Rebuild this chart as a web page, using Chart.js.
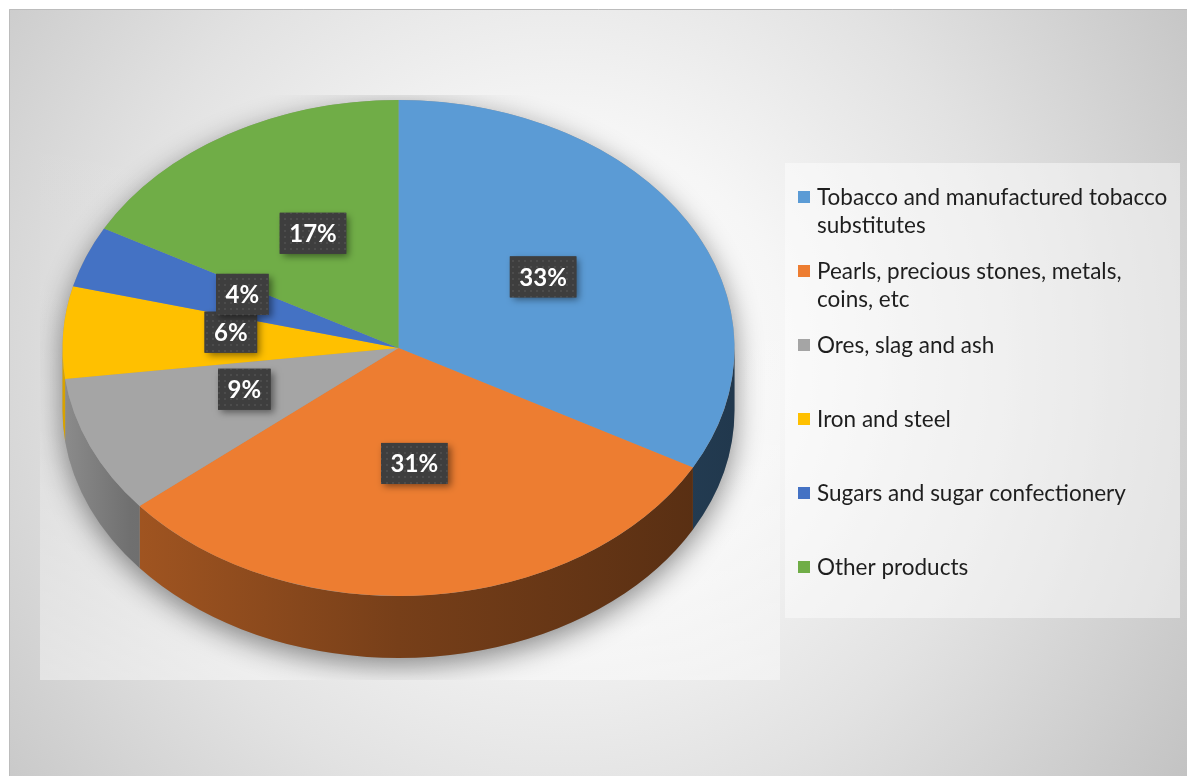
<!DOCTYPE html>
<html>
<head>
<meta charset="utf-8">
<script src="https://cdn.jsdelivr.net/npm/chart.js@4.4.1/dist/chart.umd.min.js"></script>
<style>
  html, body { margin: 0; padding: 0; background: #fff; overflow: hidden; }
  canvas { display: block; }
</style>
</head>
<body>
<canvas id="exports" width="1187" height="776"></canvas>
<script>
const categories = [
  "Tobacco and manufactured tobacco substitutes",
  "Pearls, precious stones, metals, coins, etc",
  "Ores, slag and ash",
  "Iron and steel",
  "Sugars and sugar confectionery",
  "Other products"
];
const shares = [33, 31, 9, 6, 4, 17];
const sliceColors = ["#5B9BD5", "#ED7D31", "#A5A5A5", "#FFC000", "#4472C4", "#70AD47"];

const tilt = 248 / 336;   // vertical squash of the disc
const depth = 62;         // rim thickness
const plotBox = { x: 40, y: 95, w: 740, h: 585 };
const legendBox = { x: 785, y: 163, w: 395, h: 455 };

function shade(hex, f) {
  const n = parseInt(hex.slice(1), 16);
  const r = Math.round(((n >> 16) & 255) * f);
  const g = Math.round(((n >> 8) & 255) * f);
  const b = Math.round((n & 255) * f);
  return `rgb(${r},${g},${b})`;
}

function wrap(ctx, text, maxWidth) {
  const words = text.split(" ");
  const lines = [];
  let line = "";
  words.forEach(w => {
    const test = line ? line + " " + w : w;
    if (ctx.measureText(test).width > maxWidth && line) {
      lines.push(line);
      line = w;
    } else {
      line = test;
    }
  });
  lines.push(line);
  return lines;
}

// small dotted texture for the label boxes
const dotTile = document.createElement("canvas");
dotTile.width = 6; dotTile.height = 6;
(function () {
  const c = dotTile.getContext("2d");
  c.fillStyle = "#3e3e3e";
  c.fillRect(0, 0, 6, 6);
  c.fillStyle = "#4c4c4c";
  c.fillRect(2, 2, 2, 2);
})();

const backdrop = {
  id: "backdrop",
  beforeDraw(chart) {
    const ctx = chart.ctx;
    const W = chart.width, H = chart.height;
    ctx.save();
    ctx.fillStyle = "#fff";
    ctx.fillRect(0, 0, W, H);

    const g = ctx.createRadialGradient(560, 360, 0, 560, 360, 760);
    g.addColorStop(0, "#ffffff");
    g.addColorStop(0.3, "#f6f6f6");
    g.addColorStop(0.6, "#e2e2e2");
    g.addColorStop(1, "#c2c2c2");
    ctx.fillStyle = g;
    ctx.fillRect(9, 9, W - 9, H - 9);

    ctx.strokeStyle = "#bcbcbc";
    ctx.lineWidth = 1;
    ctx.beginPath();
    ctx.moveTo(9.5, H);
    ctx.lineTo(9.5, 9.5);
    ctx.lineTo(W, 9.5);
    ctx.stroke();

    // plot area gets lighter towards its bottom edge
    const pg = ctx.createLinearGradient(0, plotBox.y, 0, plotBox.y + plotBox.h);
    pg.addColorStop(0, "rgba(255,255,255,0)");
    pg.addColorStop(0.4, "rgba(255,255,255,0.05)");
    pg.addColorStop(1, "rgba(255,255,255,0.4)");
    ctx.fillStyle = pg;
    ctx.fillRect(plotBox.x, plotBox.y, plotBox.w, plotBox.h);

    ctx.fillStyle = "rgba(255,255,255,0.45)";
    ctx.fillRect(legendBox.x, legendBox.y, legendBox.w, legendBox.h);
    ctx.restore();
  }
};

const pie3d = {
  id: "pie3d",
  beforeDatasetsDraw(chart) {
    const ctx = chart.ctx;
    const arcs = chart.getDatasetMeta(0).data;
    const cx = arcs[0].x, cy = arcs[0].y, rx = arcs[0].outerRadius;
    const ry = rx * tilt;

    // soft shadow under the disc
    ctx.save();
    ctx.beginPath();
    ctx.rect(plotBox.x, plotBox.y, plotBox.w, plotBox.h);
    ctx.clip();
    ctx.shadowColor = "rgba(0,0,0,0.45)";
    ctx.shadowBlur = 28;
    ctx.shadowOffsetY = 8;
    ctx.fillStyle = "#999";
    ctx.beginPath();
    ctx.ellipse(cx, cy, rx, ry, 0, Math.PI, 0);
    ctx.ellipse(cx, cy + depth, rx, ry, 0, 0, Math.PI);
    ctx.closePath();
    ctx.fill();
    ctx.restore();

    // front rim, one piece per slice
    arcs.forEach((arc, i) => {
      const a0 = Math.max(arc.startAngle, 0);
      const a1 = Math.min(arc.endAngle, Math.PI);
      if (a1 <= a0) return;
      const base = sliceColors[i];
      const g = ctx.createLinearGradient(cx - rx, 0, cx + rx, 0);
      g.addColorStop(0, shade(base, 0.85));
      g.addColorStop(0.1, shade(base, 0.68));
      g.addColorStop(0.5, shade(base, 0.5));
      g.addColorStop(1, shade(base, 0.36));
      ctx.fillStyle = g;
      ctx.beginPath();
      ctx.ellipse(cx, cy, rx, ry, 0, a0, a1);
      ctx.ellipse(cx, cy + depth, rx, ry, 0, a1, a0, true);
      ctx.closePath();
      ctx.fill();
    });

    // squash the top face
    ctx.save();
    ctx.translate(cx, cy);
    ctx.scale(1, tilt);
    ctx.translate(-cx, -cy);
  },
  afterDatasetsDraw(chart) {
    chart.ctx.restore();
  },
  afterDraw(chart) {
    const ctx = chart.ctx;
    const arcs = chart.getDatasetMeta(0).data;
    const cy = arcs[0].y;
    const dots = ctx.createPattern(dotTile, "repeat");

    // value boxes
    ctx.save();
    ctx.font = "bold 24px Lato";
    ctx.textAlign = "center";
    ctx.textBaseline = "middle";
    arcs.forEach((arc, i) => {
      const p = arc.tooltipPosition();
      const x = p.x;
      const y = cy + (p.y - cy) * tilt - 8;
      const text = shares[i] + "%";
      const w = ctx.measureText(text).width + 19, h = 41;
      ctx.save();
      ctx.shadowColor = "rgba(0,0,0,0.45)";
      ctx.shadowBlur = 7;
      ctx.shadowOffsetX = 3;
      ctx.shadowOffsetY = 3;
      ctx.fillStyle = "#3e3e3e";
      ctx.fillRect(x - w / 2, y - h / 2, w, h);
      ctx.restore();
      ctx.fillStyle = dots;
      ctx.fillRect(x - w / 2, y - h / 2, w, h);
      ctx.fillStyle = "#fff";
      ctx.fillText(text, x, y + 1);
    });
    ctx.restore();

    // legend
    ctx.save();
    ctx.font = "22.5px Lato";
    ctx.textBaseline = "middle";
    let y = legendBox.y + 34;
    categories.forEach((name, i) => {
      const lines = wrap(ctx, name, 355);
      ctx.fillStyle = sliceColors[i];
      ctx.fillRect(798, y - 6, 12, 12);
      ctx.fillStyle = "#1e1e1e";
      lines.forEach((ln, j) => ctx.fillText(ln, 817, y + 1 + j * 28));
      y += 74;
    });
    ctx.restore();
  }
};

new Chart(document.getElementById("exports"), {
  type: "pie",
  data: {
    labels: categories,
    datasets: [{
      data: shares,
      backgroundColor: sliceColors,
      borderWidth: 0,
      clip: false
    }]
  },
  options: {
    responsive: false,
    animation: false,
    events: [],
    layout: { padding: { left: 62, right: 452, top: 12, bottom: 92 } },
    plugins: {
      legend: { display: false },
      tooltip: { enabled: false }
    }
  },
  plugins: [backdrop, pie3d]
});
</script>
</body>
</html>
